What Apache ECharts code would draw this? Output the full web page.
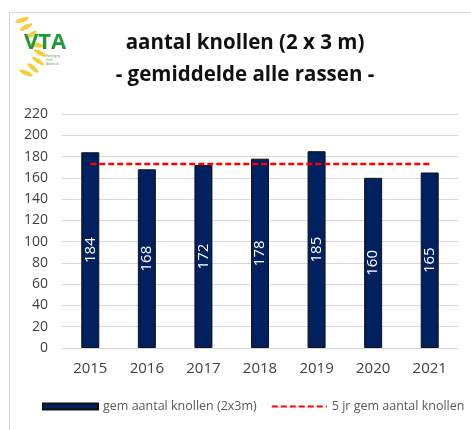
<!DOCTYPE html>
<html>
<head>
<meta charset="utf-8">
<script src="https://cdn.jsdelivr.net/npm/echarts@6/dist/echarts.min.js"></script>
<style>
  html, body { margin: 0; padding: 0; background: #fff; }
  #chart { width: 471px; height: 430px; }
</style>
</head>
<body>
<div id="chart"></div>
<script>
// data
const years = ['2015', '2016', '2017', '2018', '2019', '2020', '2021']
const knollen = [184, 168, 172, 178, 185, 160, 165]
const gem5jr = [173, 173, 173, 173, 173, 173, 173]
const titleLines = ['aantal knollen (2 x 3 m)', '- gemiddelde alle rassen -']
const seriesNames = ['gem aantal knollen (2x3m)', '5 jr gem aantal knollen']

const chart = echarts.init(document.getElementById('chart'))

// logo: yellow grains along a curved ear + green letters (rough)
const grainPos = [[22, 20, 0.3], [26, 27, 0.5], [31, 35, 0.6], [37, 45, -0.2], [40, 53, -0.5], [38, 61, -0.6], [33, 68, -0.7], [26, 73, -0.4]]
const grains = grainPos.map(p => ({
  type: 'ellipse',
  shape: { cx: 0, cy: 0, rx: 7, ry: 2.2 },
  x: p[0],
  y: p[1],
  rotation: p[2],
  style: { fill: '#f5cf3a' },
  silent: true
}))

const option = {
  animation: false,
  textStyle: { fontFamily: 'Open Sans' },
  graphic: [
    { type: 'rect', shape: { x: 9.5, y: 12.5, width: 480, height: 440 }, style: { fill: 'none', stroke: '#d9d9d9', lineWidth: 1 }, silent: true },
    ...grains,
    { type: 'text', x: 24, y: 32, style: { text: 'VTA', fill: '#1f9a3a', font: 'bold 22px "Open Sans"' } },
    { type: 'text', x: 46, y: 54, style: { text: 'Vereniging\nTeelt\nAdviseurs', fill: '#6aa56f', font: '3px sans-serif', lineHeight: 4 } },
    { type: 'text', x: 245, y: 43, style: { text: titleLines[0], fill: '#111', font: 'bold 20.5px "Open Sans"', align: 'center', verticalAlign: 'middle' } },
    { type: 'text', x: 245, y: 75, style: { text: titleLines[1], fill: '#111', font: 'bold 20.5px "Open Sans"', align: 'center', verticalAlign: 'middle' } }
  ],
  grid: { left: 62, right: 13, top: 114, bottom: 82, containLabel: false },
  legend: {
    bottom: 12,
    left: 37,
    itemGap: 14,
    itemWidth: 55,
    itemHeight: 6,
    textStyle: { fontSize: 12.5, color: '#595959', fontFamily: 'Open Sans' },
    data: [
      { name: seriesNames[0], icon: 'rect' },
      { name: seriesNames[1], itemStyle: { opacity: 0 } }
    ]
  },
  xAxis: {
    type: 'category',
    data: years,
    axisLine: { show: true, lineStyle: { color: '#d9d9d9' } },
    axisTick: { show: false },
    axisLabel: { fontSize: 15, color: '#404040', margin: 13 }
  },
  yAxis: {
    type: 'value',
    min: 0,
    max: 220,
    interval: 20,
    axisLine: { show: false },
    axisTick: { show: false },
    axisLabel: { fontSize: 14, color: '#404040', margin: 14 },
    splitLine: { lineStyle: { color: '#d9d9d9' } }
  },
  series: [
    {
      name: seriesNames[0],
      type: 'bar',
      data: knollen,
      barWidth: 18,
      itemStyle: { color: '#002060', borderColor: '#111', borderWidth: 1 },
      label: {
        show: true,
        position: 'inside',
        rotate: 90,
        color: '#fff',
        fontSize: 15,
        fontFamily: 'Open Sans'
      }
    },
    {
      name: seriesNames[1],
      type: 'line',
      data: gem5jr,
      symbol: 'none',
      lineStyle: { color: '#ff0000', type: [6, 3], width: 2.5 },
      itemStyle: { color: '#ff0000' },
      z: 3
    }
  ]
}

chart.setOption(option)
</script>
</body>
</html>
